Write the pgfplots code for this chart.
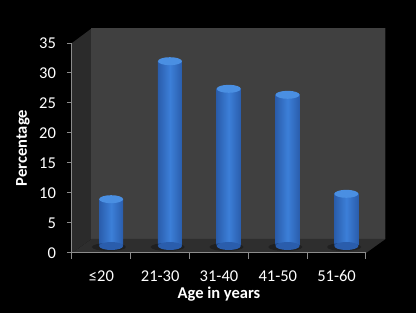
\documentclass[border=0pt]{standalone}
\usepackage{pgfplots}
\pgfplotsset{compat=1.18}
\usepackage{fontspec}
\setmainfont{Carlito}
\definecolor{wall}{HTML}{404040}
\definecolor{side}{HTML}{2B2B2B}
\definecolor{floorc}{HTML}{2E2E2E}
\definecolor{axgray}{HTML}{8C8C8C}
\definecolor{bluedark}{HTML}{2A5DAC}
\definecolor{bluemid}{HTML}{3C7FD8}
\definecolor{bluetop}{HTML}{4A8FE2}
\pgfdeclareplotmark{cyltop}{\pgfpathellipse{\pgfpointorigin}{\pgfpoint{12pt}{0pt}}{\pgfpoint{0pt}{4pt}}\pgfusepath{fill}}
\pgfdeclareplotmark{cylshadow}{\pgfpathellipse{\pgfpointorigin}{\pgfpoint{17pt}{0pt}}{\pgfpoint{0pt}{4pt}}\pgfusepath{fill}}
\pgfplotsset{cyl/.style={ybar, bar width=24pt, bar shift=0pt, draw=none, left color=bluedark, right color=bluedark, middle color=bluemid, xshift=9.75pt, yshift=7pt}}
\begin{document}
\begin{tikzpicture}
\fill[black] (-72pt,-60pt) rectangle (344pt,253pt);
\path[use as bounding box] (-72pt,-60pt) rectangle (344pt,253pt);
\fill[side] (0,0) -- (0,210pt) -- (19.5pt,224.5pt) -- (19.5pt,14pt) -- cycle;
\fill[wall] (19.5pt,14pt) rectangle (313.5pt,224.5pt);
\draw[black!70!wall, line width=1pt] (313.5pt,14pt) -- (313.5pt,224.5pt);
\fill[floorc] (0,0) -- (294pt,0) -- (313.5pt,14pt) -- (19.5pt,14pt) -- cycle;
\begin{axis}[
  at={(0,0)}, anchor=south west,
  scale only axis, width=294pt, height=210pt,
  xmin=-0.5, xmax=4.5, ymin=0, ymax=35,
  clip=false,
  axis x line*=bottom, axis y line*=left,
  axis line style={axgray, line width=1pt, -},
  tick align=outside,
  ytick={0,5,...,35},
  ytick style={axgray, line width=1pt},
  major tick length=5pt,
  xtick={0,...,4},
  xticklabels={≤20,21-30,31-40,41-50,51-60},
  major x tick style={draw=none},
  minor xtick={-0.5,0.5,...,4.5},
  minor x tick style={axgray, line width=1pt},
  minor tick length=6pt,
  /pgf/number format/assume math mode=true,
  tick label style={text=white, font=\fontsize{16.5}{19}\selectfont},
  yticklabel style={anchor=east, xshift=-7.5pt},
  xticklabel style={anchor=center, yshift=-18pt},
  xlabel={Age in years},
  ylabel={Percentage},
  xlabel style={at={(axis description cs:0.5,-0.195)}, anchor=center, text=white, font=\bfseries\fontsize{16.5}{19}\selectfont},
  ylabel style={at={(axis description cs:-0.167,0.5)}, anchor=center, text=white, font=\bfseries\fontsize{16.5}{19}\selectfont},
]
\addplot[only marks, mark=cylshadow, mark options={fill=black, fill opacity=0.3, draw=none}, xshift=7.5pt, yshift=6pt]
  coordinates {(0,0) (1,0) (2,0) (3,0) (4,0)};
\addplot[only marks, mark=cyltop, mark options={fill=bluedark, draw=none}, xshift=9.75pt, yshift=7pt]
  coordinates {(0,0) (1,0) (2,0) (3,0) (4,0)};
\addplot[cyl] coordinates {(0,7.8)};
\addplot[cyl] coordinates {(1,30.8)};
\addplot[cyl] coordinates {(2,26.2)};
\addplot[cyl] coordinates {(3,25.2)};
\addplot[cyl] coordinates {(4,8.7)};
\addplot[only marks, mark=cyltop, mark options={fill=bluetop, draw=none}, xshift=9.75pt, yshift=7pt]
  coordinates {(0,7.8) (1,30.8) (2,26.2) (3,25.2) (4,8.7)};
\end{axis}
\end{tikzpicture}
\end{document}
